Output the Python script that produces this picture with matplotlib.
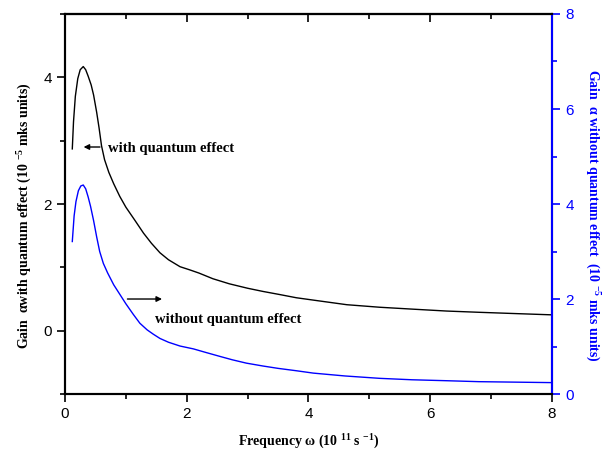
import matplotlib.pyplot as plt
from matplotlib.ticker import MultipleLocator

# ---- data ----
freq_q = [0.12, 0.14, 0.17, 0.21, 0.25, 0.3, 0.34, 0.38, 0.43, 0.47, 0.52, 0.56,
          0.6, 0.65, 0.72, 0.8, 0.9, 1.0, 1.15, 1.29, 1.42, 1.56, 1.7, 1.89, 2.05,
          2.2, 2.43, 2.7, 3.0, 3.25, 3.53, 3.8, 4.1, 4.63, 5.17, 5.71, 6.27, 6.81,
          7.4, 8.0]
gain_q = [2.87, 3.3, 3.7, 3.98, 4.12, 4.17, 4.12, 4.02, 3.88, 3.72, 3.45, 3.2,
          2.92, 2.7, 2.5, 2.32, 2.12, 1.95, 1.74, 1.54, 1.38, 1.23, 1.12, 1.01, 0.96,
          0.91, 0.82, 0.74, 0.67, 0.62, 0.57, 0.52, 0.48, 0.41, 0.37, 0.34, 0.31, 0.29,
          0.27, 0.25]

freq_nq = [0.12, 0.15, 0.18, 0.22, 0.26, 0.3, 0.34, 0.38, 0.42, 0.47, 0.52, 0.57,
           0.63, 0.7, 0.8, 0.9, 1.0, 1.12, 1.23, 1.35, 1.45, 1.56, 1.7, 1.89, 2.11,
           2.3, 2.55, 2.75, 2.98, 3.25, 3.5, 3.8, 4.08, 4.6, 5.17, 5.7, 6.27, 6.8,
           7.4, 8.0]
gain_nq = [3.21, 3.75, 4.05, 4.28, 4.38, 4.40, 4.32, 4.15, 3.95, 3.65, 3.31, 3.0,
           2.75, 2.55, 2.3, 2.1, 1.9, 1.68, 1.49, 1.35, 1.26, 1.17, 1.09, 1.01, 0.95,
           0.88, 0.79, 0.72, 0.65, 0.59, 0.54, 0.49, 0.44, 0.38, 0.33, 0.30, 0.28, 0.26,
           0.25, 0.24]

plt.rcParams['mathtext.fontset'] = 'custom'
plt.rcParams['mathtext.rm'] = 'Liberation Serif:bold'
plt.rcParams['mathtext.bf'] = 'Liberation Serif:bold'
plt.rcParams['mathtext.it'] = 'Liberation Serif:bold'

serif = dict(family='Liberation Serif', weight='bold')

fig = plt.figure(figsize=(6.04, 4.5), dpi=100)
ax = fig.add_axes([0.1076, 0.1244, 0.8063, 0.8445])
ax2 = ax.twinx()

ax.plot(freq_q, gain_q, color='black', lw=1.0)
ax2.plot(freq_nq, gain_nq, color='blue', lw=1.0)

ax.set_xlim(0, 8)
ax.set_ylim(-1, 5)
ax2.set_ylim(0, 8)

ax.xaxis.set_major_locator(MultipleLocator(2))
ax.xaxis.set_minor_locator(MultipleLocator(1))
ax.yaxis.set_major_locator(MultipleLocator(2))
ax.yaxis.set_minor_locator(MultipleLocator(1))
ax2.yaxis.set_major_locator(MultipleLocator(2))
ax2.yaxis.set_minor_locator(MultipleLocator(1))

for a in (ax, ax2):
    for s in a.spines.values():
        s.set_linewidth(1.5)
ax2.spines['right'].set_color('blue')

ax.tick_params(axis='both', which='major', direction='out', length=6, width=1.2,
               labelsize=11)
ax.tick_params(axis='both', which='minor', direction='out', length=3.5, width=1.2)
ax2.tick_params(axis='y', which='major', direction='out', length=6, width=1.2,
                labelsize=11, colors='blue')
ax2.tick_params(axis='y', which='minor', direction='out', length=3.5, width=1.2,
                colors='blue')

# mirrored ticks on the top edge, pointing down
top = ax.secondary_xaxis('top')
top.xaxis.set_major_locator(MultipleLocator(2))
top.xaxis.set_minor_locator(MultipleLocator(1))
top.tick_params(which='major', direction='in', length=6, width=1.2, labeltop=False)
top.tick_params(which='minor', direction='in', length=3.5, width=1.2)
top.spines['top'].set_linewidth(1.5)

for lab in ax.get_xticklabels() + ax.get_yticklabels() + ax2.get_yticklabels():
    lab.set_family('Liberation Sans')

ax.set_xlabel(r'Frequency $\omega$ (10 $^{11}$ s $^{-1}$)', fontsize=10, labelpad=8, **serif)
ax.set_ylabel(r'Gain  $\alpha$with quantum effect (10 $^{-5}$ mks units)', fontsize=10,
              va='center', **serif)
ax.yaxis.set_label_coords(-0.082, 0.47)
ax2.set_ylabel(r'Gain  $\alpha$ without quantum effect  (10 $^{-5}$ mks units)',
               fontsize=10, color='blue', rotation=270, va='center', **serif)
ax2.yaxis.set_label_coords(1.082, 0.47)

ax.annotate('', xy=(0.26, 2.9), xytext=(0.62, 2.9),
            arrowprops=dict(arrowstyle='-|>', color='black', lw=1.0, mutation_scale=8))
ax.text(0.70, 2.88, 'with quantum effect', fontsize=10.5, va='center', **serif)

ax.annotate('', xy=(1.64, 0.5), xytext=(0.98, 0.5),
            arrowprops=dict(arrowstyle='-|>', color='black', lw=1.0, mutation_scale=8))
ax.text(1.48, 0.18, 'without quantum effect', fontsize=10.5, va='center', **serif)

fig.savefig('out.png', dpi=100)
